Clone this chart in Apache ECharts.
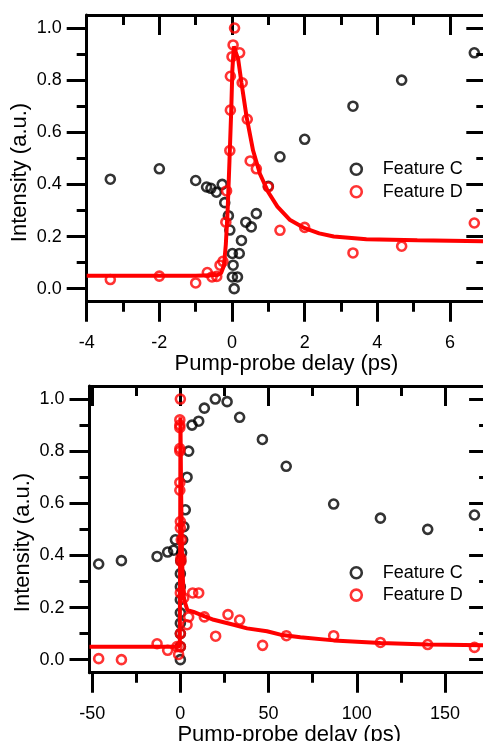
<!DOCTYPE html>
<html lang="en">
<head>
<meta charset="UTF-8">
<title>Feature C / D kinetics</title>
<style>
  html, body { margin: 0; padding: 0; background: #fff; }
  #main { width: 483px; height: 741px; }
</style>
</head>
<body>
<div id="main"></div>
<script src="https://cdn.jsdelivr.net/npm/echarts@6/dist/echarts.min.js"></script>
<script>
// ---- data: [delay (ps), intensity (a.u.)] ----
var topFeatureC = [[-3.35,0.42],[-2.0,0.46],[-1.0,0.415],[-0.7,0.39],[-0.58,0.385],[-0.43,0.37],[-0.27,0.40],[-0.2,0.33],[-0.1,0.28],[-0.06,0.225],[0.01,0.135],[0.03,0.09],[0.01,0.045],[0.15,0.045],[0.06,0.0],[0.2,0.135],[0.26,0.185],[0.38,0.255],[0.53,0.237],[0.67,0.288],[1.0,0.393],[1.32,0.506],[2.0,0.573],[3.33,0.70],[4.67,0.80],[6.67,0.905]];
var topFeatureD = [[-3.35,0.035],[-2.0,0.048],[-1.0,0.022],[-0.68,0.062],[-0.55,0.045],[-0.42,0.047],[-0.33,0.09],[-0.25,0.105],[-0.17,0.255],[-0.15,0.375],[-0.06,0.53],[-0.045,0.685],[-0.045,0.815],[0.0,0.89],[0.03,0.935],[0.07,1.0],[0.21,0.905],[0.28,0.79],[0.42,0.65],[0.5,0.49],[0.67,0.46],[1.0,0.39],[1.32,0.224],[2.0,0.235],[3.33,0.137],[4.67,0.163],[6.67,0.252]];
var topFitD = [[-4,0.05],[-1,0.05],[-0.4,0.052],[-0.3,0.06],[-0.22,0.09],[-0.17,0.17],[-0.12,0.30],[-0.07,0.49],[-0.02,0.69],[0.01,0.84],[0.05,0.93],[0.1,0.925],[0.17,0.88],[0.26,0.79],[0.4,0.66],[0.58,0.53],[0.77,0.44],[1.0,0.37],[1.25,0.315],[1.6,0.263],[2.0,0.232],[2.4,0.212],[2.8,0.2],[3.7,0.19],[5.1,0.186],[7,0.182]];

var bottomFeatureC = [[-46.3,0.367],[-33.4,0.38],[-13.2,0.396],[-7.2,0.413],[-3.8,0.42],[-2.8,0.46],[0,0.0],[0,0.05],[0,0.1],[0,0.14],[0,0.18],[0,0.23],[0,0.28],[0,0.33],[0.2,0.38],[0.7,0.41],[1.3,0.46],[2,0.51],[2.8,0.575],[3.8,0.70],[4.7,0.80],[6.6,0.90],[10.4,0.915],[13.6,0.965],[19.8,1.0],[26.5,0.99],[33.6,0.93],[46.5,0.845],[60,0.742],[86.9,0.597],[113.4,0.543],[140.2,0.50],[166.7,0.555]];
var bottomFeatureD = [[-46.3,0.004],[-33.4,0.0],[-13.2,0.061],[-7.2,0.036],[-1.9,0.05],[-1,0.02],[0,0.05],[0,0.1],[0,0.256],[0.3,0.39],[0.3,0.377],[0.5,0.46],[0,0.53],[0,0.505],[-0.3,0.68],[-0.3,0.65],[-0.3,0.81],[-0.3,0.80],[-0.3,0.92],[-0.3,0.90],[-0.3,0.89],[0,1.0],[1.9,0.237],[3.8,0.134],[4.7,0.164],[7,0.256],[10.4,0.256],[13.6,0.164],[20,0.09],[27,0.173],[33.6,0.152],[46.6,0.055],[60.1,0.092],[86.9,0.092],[113.4,0.066],[140.2,0.058],[166.7,0.047]];
var bottomFitD = [[-51.5,0.05],[-1,0.05],[-0.3,0.06],[-0.1,0.5],[0.05,0.93],[0.4,0.66],[1,0.37],[2,0.232],[4,0.19],[7.5,0.183],[11.3,0.173],[18.9,0.153],[30.2,0.134],[37.8,0.12],[49.1,0.109],[56.7,0.096],[68,0.086],[86.9,0.074],[113.4,0.064],[140.2,0.058],[175,0.055]];

// tick labels
var yTicks = [0, 0.2, 0.4, 0.6, 0.8, 1.0];
var topXTicks = [-4, -2, 0, 2, 4, 6];
var bottomXTicks = [-50, 0, 50, 100, 150];

var FONT = "'Liberation Sans', Arial, sans-serif";
var BLACK = '#000';
var RED = '#ff0000';

var minorTick = { show: true, splitNumber: 2, length: 10, lineStyle: { color: BLACK, width: 3 } };

function xAxisPair(gi, min, max, ticks, gap) {
  var common = {
    gridIndex: gi, type: 'value', min: min, max: max, splitNumber: 5,
    splitLine: { show: false },
    axisLine: { show: true, onZero: false, lineStyle: { color: BLACK, width: 3 } },
    minorTick: minorTick
  };
  var bottom = Object.assign({}, common, {
    position: 'bottom',
    axisTick: { show: true, customValues: ticks, length: 20, lineStyle: { color: BLACK, width: 3 } },
    axisLabel: { customValues: ticks, margin: 32, fontSize: 18, color: BLACK, fontFamily: FONT },
    name: 'Pump-probe delay (ps)', nameLocation: 'middle', nameGap: gap,
    nameTextStyle: { fontSize: 22, color: BLACK, fontFamily: FONT }
  });
  var top = Object.assign({}, common, {
    position: 'top',
    axisTick: { show: true, customValues: ticks, inside: true, length: 20, lineStyle: { color: BLACK, width: 3 } },
    axisLabel: { show: false }
  });
  return [bottom, top];
}

function yAxisPair(gi) {
  var common = {
    gridIndex: gi, type: 'value', min: -0.05, max: 1.05, splitNumber: 5,
    splitLine: { show: false },
    axisLine: { show: true, onZero: false, lineStyle: { color: BLACK, width: 3 } },
    minorTick: minorTick
  };
  var left = Object.assign({}, common, {
    position: 'left',
    axisTick: { show: true, customValues: yTicks, length: 20, lineStyle: { color: BLACK, width: 3 } },
    axisLabel: { customValues: yTicks, margin: 25, fontSize: 18, color: BLACK, fontFamily: FONT,
      formatter: function (v) { return v.toFixed(1); } }
  });
  var right = Object.assign({}, common, {
    position: 'right',
    axisTick: { show: true, customValues: yTicks, inside: true, length: 20, lineStyle: { color: BLACK, width: 3 } },
    axisLabel: { show: false }
  });
  return [left, right];
}

function dots(name, data, color, xi, yi, z) {
  return {
    type: 'scatter', name: name, data: data, xAxisIndex: xi, yAxisIndex: yi,
    symbol: 'circle', symbolSize: 9, z: z, clip: false,
    itemStyle: { color: 'rgba(0,0,0,0)', borderColor: color, borderWidth: 2.6 },
    emphasis: { disabled: true }
  };
}

function fit(data, xi, yi) {
  return {
    type: 'line', name: 'fit', data: data, xAxisIndex: xi, yAxisIndex: yi,
    showSymbol: false, symbol: 'none', z: 3,
    lineStyle: { color: RED, width: 4 }
  };
}

function legendAt(top) {
  return {
    orient: 'vertical', left: 349.5, top: top, padding: 0,
    itemWidth: 11, itemHeight: 11, itemGap: 4.4,
    data: ['Feature C', 'Feature D'],
    itemStyle: { borderWidth: 2.6 },
    textStyle: { fontSize: 18, lineHeight: 18, color: BLACK, fontFamily: FONT, padding: [0, 0, 0, 16] }
  };
}

function yTitle(x, y) {
  return {
    type: 'text', x: x, y: y, rotation: Math.PI / 2, z: 10,
    style: { text: 'Intensity (a.u.)', fontSize: 22, fontFamily: FONT, fill: BLACK,
      align: 'center', verticalAlign: 'middle' }
  };
}

var myChart = echarts.init(document.getElementById('main'));
var option = {
  animation: false,
  backgroundColor: '#fff',
  grid: [
    { left: 86.7, top: 15, width: 399.6, height: 286.7, outerBoundsMode: 'none' },
    { left: 89.5, top: 386, width: 399.6, height: 286.7, outerBoundsMode: 'none' }
  ],
  xAxis: xAxisPair(0, -4, 7, topXTicks, 44).concat(xAxisPair(1, -51.5, 175, bottomXTicks, 46)),
  yAxis: yAxisPair(0).concat(yAxisPair(1)),
  legend: [legendAt(160.3), legendAt(563.7)],
  graphic: [yTitle(19.7, 172.5), yTitle(22.5, 542.5)],
  series: [
    dots('Feature C', topFeatureC, BLACK, 0, 0, 2),
    fit(topFitD, 0, 0),
    dots('Feature D', topFeatureD, RED, 0, 0, 4),
    dots('Feature C', bottomFeatureC, BLACK, 2, 2, 2),
    fit(bottomFitD, 2, 2),
    dots('Feature D', bottomFeatureD, RED, 2, 2, 4)
  ]
};
myChart.setOption(option);
</script>
</body>
</html>
